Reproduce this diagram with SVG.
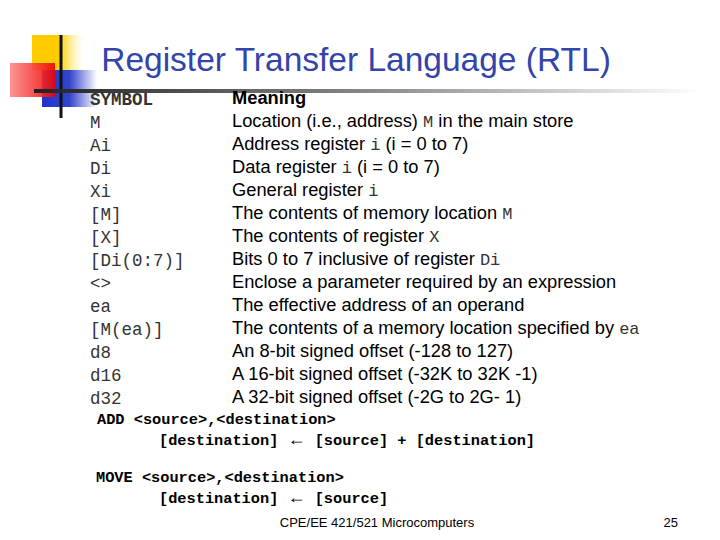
<svg xmlns="http://www.w3.org/2000/svg" width="720" height="540" viewBox="0 0 720 540">
<defs>
<linearGradient id="ln" x1="0" x2="1"><stop offset="0" stop-color="#222"/><stop offset="0.5" stop-color="#888"/><stop offset="1" stop-color="#fff"/></linearGradient>
<linearGradient id="rd" x1="0" x2="1"><stop offset="0" stop-color="#f88"/><stop offset="1" stop-color="#e00"/></linearGradient>
<linearGradient id="bl" x1="0" x2="1"><stop offset="0" stop-color="#2233cc"/><stop offset="0.5" stop-color="#3344cc"/><stop offset="1" stop-color="#3344cc" stop-opacity="0"/></linearGradient>
<linearGradient id="yl" x1="0" x2="1"><stop offset="0" stop-color="#fc0"/><stop offset="0.6" stop-color="#fd4"/><stop offset="1" stop-color="#fff" stop-opacity="0"/></linearGradient>
</defs>
<style>
.s{font-family:"Liberation Mono",monospace;font-size:17.5px;fill:#333}
.m{font-family:"Liberation Sans",Arial,sans-serif;font-size:18.3px;fill:#000}
.c{font-family:"Liberation Mono",monospace;font-size:17px;fill:#333}
.b{font-family:"Liberation Mono",monospace;font-size:15.3px;font-weight:bold;fill:#000}
.a{font-family:"Liberation Sans",sans-serif;font-size:18px}
</style>
<rect width="720" height="540" fill="#fff"/>
<g id="logo">
<rect x="32" y="35" width="55" height="35" fill="url(#yl)"/>
<rect x="32" y="35" width="30" height="35" fill="#fc0"/>
<rect x="42" y="70" width="55" height="37" fill="url(#bl)"/>
<rect x="10" y="63" width="45" height="34" fill="url(#rd)" opacity="0.9"/>
<line x1="61" y1="35" x2="61" y2="118" stroke="#111" stroke-width="3"/>
<rect x="34" y="89" width="666" height="4" fill="url(#ln)"/>
</g>
<text x="356" y="71" text-anchor="middle" font-family="Liberation Sans,Arial,sans-serif" font-size="33.5" fill="#3344aa">Register Transfer Language (RTL)</text>
<g id="table">
<text class="s" x="90" y="105" font-weight="bold">SYMBOL</text><text class="m" x="232" y="104" font-weight="bold">Meaning</text>
<text class="s" x="90" y="128">M</text><text class="m" x="232" y="127">Location (i.e., address) <tspan class="c">M</tspan> in the main store</text>
<text class="s" x="90" y="151">Ai</text><text class="m" x="232" y="150">Address register <tspan class="c">i</tspan> (i = 0 to 7)</text>
<text class="s" x="90" y="174">Di</text><text class="m" x="232" y="173">Data register <tspan class="c">i</tspan> (i = 0 to 7)</text>
<text class="s" x="90" y="197">Xi</text><text class="m" x="232" y="196">General register <tspan class="c">i</tspan></text>
<text class="s" x="90" y="220">[M]</text><text class="m" x="232" y="219">The contents of memory location <tspan class="c">M</tspan></text>
<text class="s" x="90" y="243">[X]</text><text class="m" x="232" y="242">The contents of register <tspan class="c">X</tspan></text>
<text class="s" x="90" y="266">[Di(0:7)]</text><text class="m" x="232" y="265">Bits 0 to 7 inclusive of register <tspan class="c">Di</tspan></text>
<text class="s" x="90" y="289">&lt;&gt;</text><text class="m" x="232" y="288">Enclose a parameter required by an expression</text>
<text class="s" x="90" y="312">ea</text><text class="m" x="232" y="311">The effective address of an operand</text>
<text class="s" x="90" y="335">[M(ea)]</text><text class="m" x="232" y="334">The contents of a memory location specified by <tspan class="c">ea</tspan></text>
<text class="s" x="90" y="358">d8</text><text class="m" x="232" y="357">An 8-bit signed offset (-128 to 127)</text>
<text class="s" x="90" y="381">d16</text><text class="m" x="232" y="380">A 16-bit signed offset (-32K to 32K -1)</text>
<text class="s" x="90" y="404">d32</text><text class="m" x="232" y="403">A 32-bit signed offset (-2G to 2G- 1)</text>
</g>
<g id="examples">
<text class="b" x="97" y="424">ADD &lt;source&gt;,&lt;destination&gt;</text>
<text class="b" x="159" y="445">[destination] <tspan class="a">←</tspan> [source] + [destination]</text>
<text class="b" x="96" y="482">MOVE &lt;source&gt;,&lt;destination&gt;</text>
<text class="b" x="159" y="503">[destination] <tspan class="a">←</tspan> [source]</text>
</g>
<text x="377" y="527" text-anchor="middle" font-family="Liberation Sans,Arial,sans-serif" font-size="13" fill="#000">CPE/EE 421/521 Microcomputers</text>
<text x="678" y="527" text-anchor="end" font-family="Liberation Sans,Arial,sans-serif" font-size="13" fill="#000">25</text>
</svg>
